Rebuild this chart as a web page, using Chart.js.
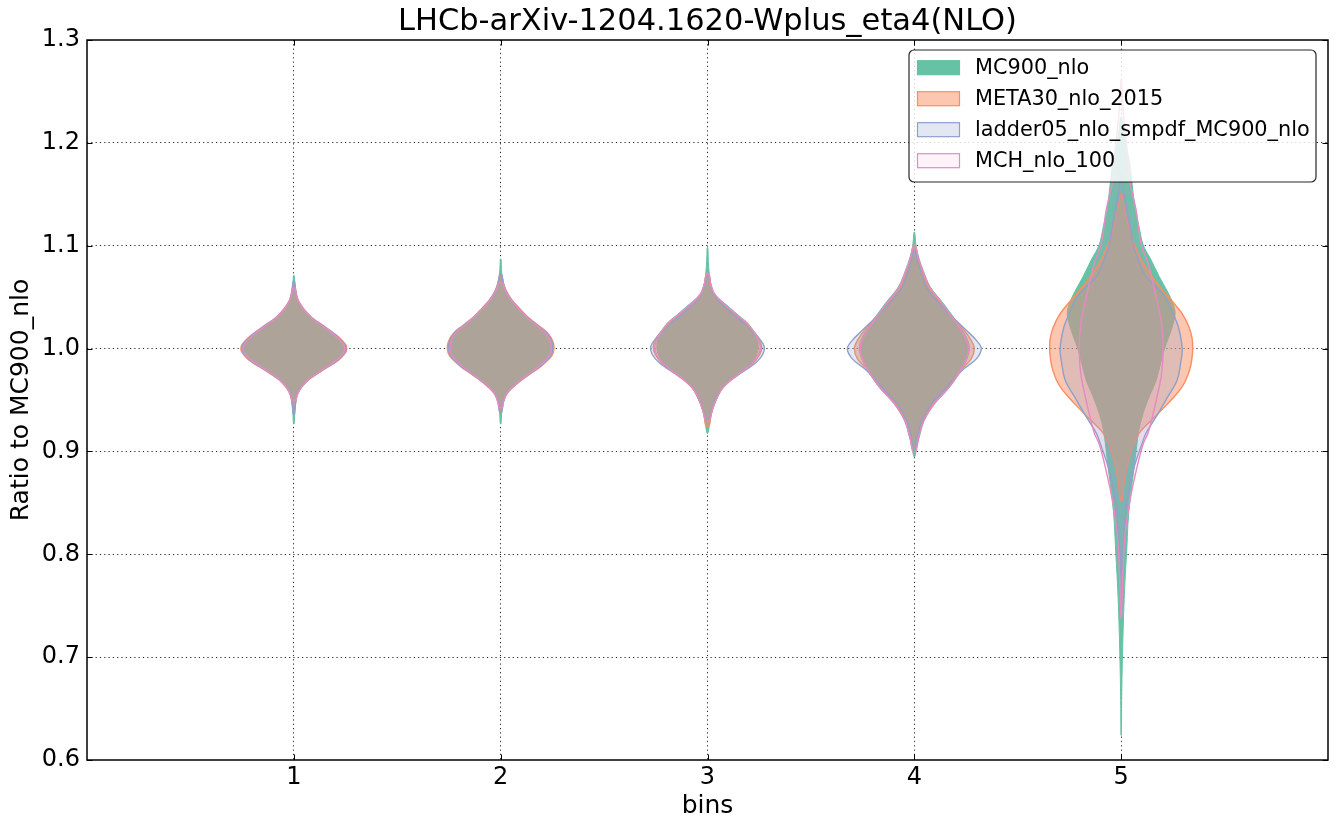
<!DOCTYPE html>
<html>
<head>
<meta charset="utf-8">
<script src="https://cdn.jsdelivr.net/npm/chart.js@4"></script>
<style>
html,body{margin:0;padding:0;background:#fff;}
#wrap{width:1337px;height:830px;}
</style>
</head>
<body>
<div id="wrap"><canvas id="c" width="1337" height="830"></canvas></div>
<script>
// ---------------- data ----------------
const chartTitle = 'LHCb-arXiv-1204.1620-Wplus_eta4(NLO)';
const xAxisLabel = 'bins';
const yAxisLabel = 'Ratio to MC900_nlo';
const bins = [1, 2, 3, 4, 5];
const xTickLabels = ['1', '2', '3', '4', '5'];
const yTicks = [0.6, 0.7, 0.8, 0.9, 1.0, 1.1, 1.2, 1.3];
const seriesNames = ['MC900_nlo', 'META30_nlo_2015', 'ladder05_nlo_smpdf_MC900_nlo', 'MCH_nlo_100'];

// violin profiles, one per bin: [ratio, half-width in bin units], top to bottom
const MC900_nlo = [
  [[1.071,0.002],[1.063,0.005],[1.055,0.010],[1.047,0.020],[1.038,0.048],[1.030,0.085],[1.021,0.148],[1.011,0.212],[1.004,0.244],[1.000,0.250],[0.996,0.244],[0.989,0.212],[0.979,0.135],[0.970,0.070],[0.962,0.035],[0.955,0.016],[0.945,0.007],[0.936,0.004],[0.927,0.002]],
  [[1.087,0.002],[1.077,0.004],[1.068,0.009],[1.057,0.024],[1.047,0.053],[1.039,0.088],[1.031,0.126],[1.022,0.180],[1.015,0.222],[1.007,0.246],[1.000,0.251],[0.993,0.240],[0.982,0.184],[0.974,0.128],[0.966,0.077],[0.957,0.031],[0.948,0.012],[0.938,0.005],[0.927,0.002]],
  [[1.098,0.002],[1.085,0.004],[1.072,0.009],[1.062,0.017],[1.052,0.040],[1.040,0.106],[1.032,0.152],[1.024,0.198],[1.011,0.238],[1.002,0.245],[0.994,0.238],[0.986,0.215],[0.976,0.155],[0.968,0.105],[0.960,0.068],[0.951,0.045],[0.943,0.029],[0.935,0.018],[0.927,0.010],[0.918,0.003]],
  [[1.113,0.002],[1.100,0.008],[1.088,0.022],[1.076,0.043],[1.060,0.077],[1.044,0.140],[1.028,0.198],[1.018,0.232],[1.008,0.258],[1.000,0.266],[0.990,0.255],[0.979,0.227],[0.962,0.169],[0.946,0.097],[0.930,0.048],[0.914,0.024],[0.905,0.012],[0.895,0.003]],
  [[1.225,0.003],[1.200,0.020],[1.183,0.039],[1.151,0.058],[1.135,0.068],[1.118,0.087],[1.101,0.106],[1.086,0.145],[1.070,0.184],[1.055,0.225],[1.044,0.250],[1.034,0.261],[1.020,0.245],[1.010,0.228],[1.000,0.210],[0.985,0.190],[0.969,0.169],[0.953,0.135],[0.937,0.106],[0.920,0.085],[0.905,0.075],[0.880,0.060],[0.853,0.043],[0.830,0.033],[0.804,0.027],[0.780,0.020],[0.756,0.0145],[0.730,0.010],[0.707,0.007],[0.680,0.004],[0.650,0.002],[0.624,0.001]]
];
const META30_nlo_2015 = [
  [[1.063,0.004],[1.055,0.010],[1.047,0.021],[1.038,0.050],[1.030,0.088],[1.021,0.152],[1.011,0.218],[1.004,0.250],[1.000,0.256],[0.996,0.250],[0.989,0.218],[0.979,0.140],[0.970,0.073],[0.962,0.036],[0.955,0.016],[0.945,0.007],[0.940,0.004]],
  [[1.070,0.006],[1.064,0.013],[1.057,0.025],[1.047,0.055],[1.039,0.091],[1.031,0.130],[1.022,0.186],[1.015,0.228],[1.007,0.252],[1.000,0.258],[0.993,0.247],[0.982,0.190],[0.974,0.132],[0.966,0.080],[0.957,0.033],[0.948,0.013],[0.940,0.006]],
  [[1.072,0.008],[1.062,0.016],[1.052,0.036],[1.040,0.095],[1.032,0.145],[1.024,0.192],[1.011,0.245],[1.002,0.262],[0.994,0.252],[0.986,0.222],[0.976,0.158],[0.968,0.106],[0.960,0.067],[0.951,0.043],[0.943,0.027],[0.935,0.016],[0.925,0.008]],
  [[1.100,0.006],[1.088,0.018],[1.076,0.038],[1.060,0.070],[1.044,0.130],[1.028,0.195],[1.018,0.240],[1.008,0.275],[1.000,0.290],[0.990,0.275],[0.979,0.225],[0.962,0.160],[0.946,0.090],[0.930,0.044],[0.914,0.020],[0.905,0.010]],
  [[1.151,0.002],[1.130,0.022],[1.110,0.048],[1.097,0.072],[1.085,0.100],[1.070,0.150],[1.057,0.200],[1.044,0.255],[1.034,0.295],[1.021,0.328],[1.010,0.343],[1.000,0.346],[0.990,0.342],[0.980,0.332],[0.969,0.312],[0.960,0.285],[0.953,0.255],[0.945,0.218],[0.937,0.180],[0.925,0.120],[0.918,0.088],[0.907,0.060],[0.895,0.040],[0.885,0.028],[0.870,0.014],[0.852,0.004]]
];
const ladder05_nlo_smpdf_MC900_nlo = [
  [[1.065,0.003],[1.055,0.010],[1.047,0.020],[1.038,0.048],[1.030,0.086],[1.021,0.150],[1.011,0.214],[1.004,0.246],[1.000,0.252],[0.996,0.246],[0.989,0.214],[0.979,0.137],[0.970,0.071],[0.962,0.035],[0.955,0.016],[0.945,0.007],[0.936,0.003]],
  [[1.072,0.005],[1.064,0.012],[1.057,0.024],[1.047,0.053],[1.039,0.089],[1.031,0.127],[1.022,0.182],[1.015,0.224],[1.007,0.247],[1.000,0.252],[0.993,0.242],[0.982,0.186],[0.974,0.130],[0.966,0.078],[0.957,0.032],[0.948,0.012],[0.938,0.005]],
  [[1.070,0.008],[1.062,0.015],[1.052,0.033],[1.040,0.085],[1.032,0.132],[1.024,0.180],[1.011,0.245],[1.002,0.274],[0.994,0.266],[0.986,0.232],[0.976,0.160],[0.968,0.102],[0.960,0.065],[0.951,0.040],[0.943,0.025],[0.935,0.015],[0.930,0.010]],
  [[1.095,0.006],[1.088,0.012],[1.076,0.030],[1.060,0.058],[1.044,0.121],[1.028,0.198],[1.018,0.250],[1.008,0.300],[1.000,0.324],[0.990,0.300],[0.979,0.232],[0.962,0.155],[0.946,0.082],[0.930,0.038],[0.914,0.015],[0.905,0.007]],
  [[1.170,0.002],[1.150,0.015],[1.135,0.030],[1.118,0.044],[1.101,0.058],[1.085,0.085],[1.070,0.120],[1.060,0.170],[1.050,0.213],[1.034,0.251],[1.020,0.278],[1.000,0.295],[0.985,0.287],[0.969,0.270],[0.953,0.225],[0.937,0.179],[0.918,0.121],[0.907,0.100],[0.885,0.063],[0.853,0.029],[0.820,0.014],[0.800,0.006],[0.780,0.002]]
];
const MCH_nlo_100 = [
  [[1.059,0.004],[1.052,0.012],[1.047,0.020],[1.038,0.047],[1.030,0.084],[1.021,0.146],[1.011,0.209],[1.004,0.240],[1.000,0.246],[0.996,0.240],[0.989,0.209],[0.979,0.134],[0.970,0.070],[0.962,0.035],[0.955,0.017],[0.950,0.009]],
  [[1.064,0.008],[1.057,0.022],[1.047,0.051],[1.039,0.086],[1.031,0.124],[1.022,0.177],[1.015,0.218],[1.007,0.240],[1.000,0.245],[0.993,0.236],[0.982,0.181],[0.974,0.126],[0.966,0.076],[0.957,0.031],[0.948,0.013],[0.943,0.008]],
  [[1.073,0.006],[1.062,0.016],[1.052,0.036],[1.040,0.098],[1.032,0.146],[1.024,0.192],[1.011,0.240],[1.002,0.255],[0.994,0.246],[0.986,0.218],[0.976,0.156],[0.968,0.104],[0.960,0.066],[0.951,0.043],[0.943,0.027],[0.935,0.016],[0.930,0.010]],
  [[1.100,0.005],[1.088,0.019],[1.076,0.040],[1.060,0.073],[1.044,0.134],[1.028,0.192],[1.018,0.226],[1.008,0.252],[1.000,0.262],[0.990,0.252],[0.979,0.224],[0.962,0.166],[0.946,0.095],[0.930,0.046],[0.914,0.021],[0.900,0.008]],
  [[1.262,0.001],[1.230,0.010],[1.200,0.025],[1.183,0.033],[1.161,0.043],[1.135,0.072],[1.101,0.097],[1.083,0.130],[1.050,0.169],[1.025,0.195],[1.000,0.203],[0.975,0.195],[0.950,0.170],[0.937,0.155],[0.918,0.130],[0.907,0.106],[0.885,0.077],[0.853,0.043],[0.820,0.019],[0.790,0.010],[0.756,0.004],[0.738,0.001]]
];

// ---------------- styling ----------------
const seriesProfiles = [MC900_nlo, META30_nlo_2015, ladder05_nlo_smpdf_MC900_nlo, MCH_nlo_100];
const seriesRGB = [[102,194,165],[252,141,98],[141,160,203],[231,138,195]];
const seriesFillAlpha = [1.0, 0.5, 0.25, 0.1];
const seriesLineWidth = [1.0, 1.4, 1.4, 1.4];
const rgba = (c, a) => `rgba(${c[0]},${c[1]},${c[2]},${a})`;
const FONT = 'DejaVu Sans';

function violinPoints(center, profile) {
  const pts = [];
  for (let i = 0; i < profile.length; i++) pts.push({x: center - profile[i][1], y: profile[i][0]});
  for (let i = profile.length - 1; i >= 0; i--) pts.push({x: center + profile[i][1], y: profile[i][0]});
  pts.push({x: center - profile[0][1], y: profile[0][0]});
  return pts;
}

const datasets = [];
seriesProfiles.forEach((profiles, s) => {
  profiles.forEach((prof, b) => {
    datasets.push({
      label: seriesNames[s],
      data: violinPoints(bins[b], prof),
      showLine: true,
      fill: 'shape',
      backgroundColor: rgba(seriesRGB[s], seriesFillAlpha[s]),
      borderColor: rgba(seriesRGB[s], 1),
      borderWidth: seriesLineWidth[s],
      pointRadius: 0,
      pointHoverRadius: 0,
      tension: 0.35,
      order: seriesProfiles.length - s
    });
  });
});

const gridDash = [1.2, 3.1];

const framePlugin = {
  id: 'frameAndLegend',
  afterDraw(chart) {
    const {ctx, chartArea: a, scales} = chart;
    ctx.save();
    // title, centred over the plot area
    ctx.fillStyle = '#000';
    ctx.font = `30.5px "${FONT}"`;
    ctx.textAlign = 'center';
    ctx.textBaseline = 'middle';
    ctx.fillText(chartTitle, (a.left + a.right) / 2, 22);

    // inward ticks on all four sides
    ctx.strokeStyle = '#000';
    ctx.lineWidth = 1;
    ctx.beginPath();
    const tl = 5.5;
    bins.forEach(v => {
      const px = Math.round(scales.x.getPixelForValue(v)) + 0.5;
      ctx.moveTo(px, a.bottom); ctx.lineTo(px, a.bottom - tl);
      ctx.moveTo(px, a.top); ctx.lineTo(px, a.top + tl);
    });
    yTicks.forEach(v => {
      const py = Math.round(scales.y.getPixelForValue(v)) + 0.5;
      ctx.moveTo(a.left, py); ctx.lineTo(a.left + tl, py);
      ctx.moveTo(a.right, py); ctx.lineTo(a.right - tl, py);
    });
    ctx.stroke();
    // frame
    ctx.lineWidth = 1.5;
    ctx.strokeRect(a.left, a.top, a.right - a.left, a.bottom - a.top);

    // legend
    const lw = 407, lh = 132;
    const lx = a.right - 12 - lw, ly = a.top + 10;
    const r = 5;
    ctx.beginPath();
    ctx.moveTo(lx + r, ly);
    ctx.lineTo(lx + lw - r, ly);
    ctx.arcTo(lx + lw, ly, lx + lw, ly + r, r);
    ctx.lineTo(lx + lw, ly + lh - r);
    ctx.arcTo(lx + lw, ly + lh, lx + lw - r, ly + lh, r);
    ctx.lineTo(lx + r, ly + lh);
    ctx.arcTo(lx, ly + lh, lx, ly + lh - r, r);
    ctx.lineTo(lx, ly + r);
    ctx.arcTo(lx, ly, lx + r, ly, r);
    ctx.closePath();
    ctx.fillStyle = 'rgba(255,255,255,0.8)';
    ctx.fill();
    ctx.strokeStyle = 'rgba(0,0,0,0.85)';
    ctx.lineWidth = 1.2;
    ctx.stroke();

    ctx.font = `20.8px "${FONT}"`;
    ctx.textBaseline = 'middle';
    ctx.textAlign = 'left';
    const rowH = 31;
    seriesNames.forEach((name, i) => {
      const cy = ly + 17.7 + i * rowH;
      const sx = lx + 8.5, sw = 42, sh = 14;
      ctx.fillStyle = 'rgba(255,255,255,1)';
      ctx.fillRect(sx, cy - sh / 2, sw, sh);
      ctx.fillStyle = rgba(seriesRGB[i], seriesFillAlpha[i]);
      ctx.fillRect(sx, cy - sh / 2, sw, sh);
      ctx.strokeStyle = rgba(seriesRGB[i], 1);
      ctx.lineWidth = 1.2;
      ctx.strokeRect(sx, cy - sh / 2, sw, sh);
      ctx.fillStyle = '#000';
      ctx.fillText(name, lx + 66, cy + 1);
    });
    ctx.restore();
  }
};

Chart.defaults.color = '#000';
Chart.defaults.font.family = FONT;

new Chart(document.getElementById('c'), {
  type: 'scatter',
  data: { datasets },
  options: {
    responsive: false,
    animation: false,
    events: [],
    layout: { padding: { left: 0, right: 9, top: 40, bottom: 0 } },
    plugins: {
      legend: { display: false },
      tooltip: { enabled: false },
      title: { display: false }
    },
    scales: {
      x: {
        type: 'linear',
        min: 0, max: 6,
        z: 1,
        afterFit: s => { s.height = 70; },
        border: { display: false, dash: gridDash },
        grid: {
          drawTicks: false,
          lineWidth: 1,
          color: c => (c.tick && (c.tick.value === 0 || c.tick.value === 6)) ? 'rgba(0,0,0,0)' : 'rgba(0,0,0,0.85)'
        },
        ticks: {
          stepSize: 1,
          autoSkip: false,
          maxRotation: 0,
          padding: 3.5,
          font: { family: FONT, size: 24 },
          color: '#000',
          callback: v => { const i = bins.indexOf(v); return i >= 0 ? xTickLabels[i] : ''; }
        },
        title: {
          display: true, text: xAxisLabel, color: '#000',
          font: { family: FONT, size: 25, lineHeight: 1.2 },
          padding: { top: 0, bottom: 8.5 }
        }
      },
      y: {
        type: 'linear',
        min: 0.6, max: 1.3,
        z: 1,
        afterFit: s => { s.width = 87; },
        border: { display: false, dash: gridDash },
        grid: {
          drawTicks: false,
          lineWidth: 1,
          color: c => (c.tick && (Math.abs(c.tick.value - 0.6) < 1e-6 || Math.abs(c.tick.value - 1.3) < 1e-6)) ? 'rgba(0,0,0,0)' : 'rgba(0,0,0,0.85)'
        },
        afterBuildTicks: s => { s.ticks = yTicks.map(v => ({ value: v })); },
        ticks: {
          autoSkip: false,
          padding: 7,
          font: { family: FONT, size: 24 },
          color: '#000',
          callback: v => Number(v).toFixed(1)
        },
        title: {
          display: true, text: yAxisLabel, color: '#000',
          font: { family: FONT, size: 25, lineHeight: 1.2 },
          padding: { top: 6, bottom: 0 }
        }
      }
    }
  },
  plugins: [framePlugin]
});
</script>
</body>
</html>
